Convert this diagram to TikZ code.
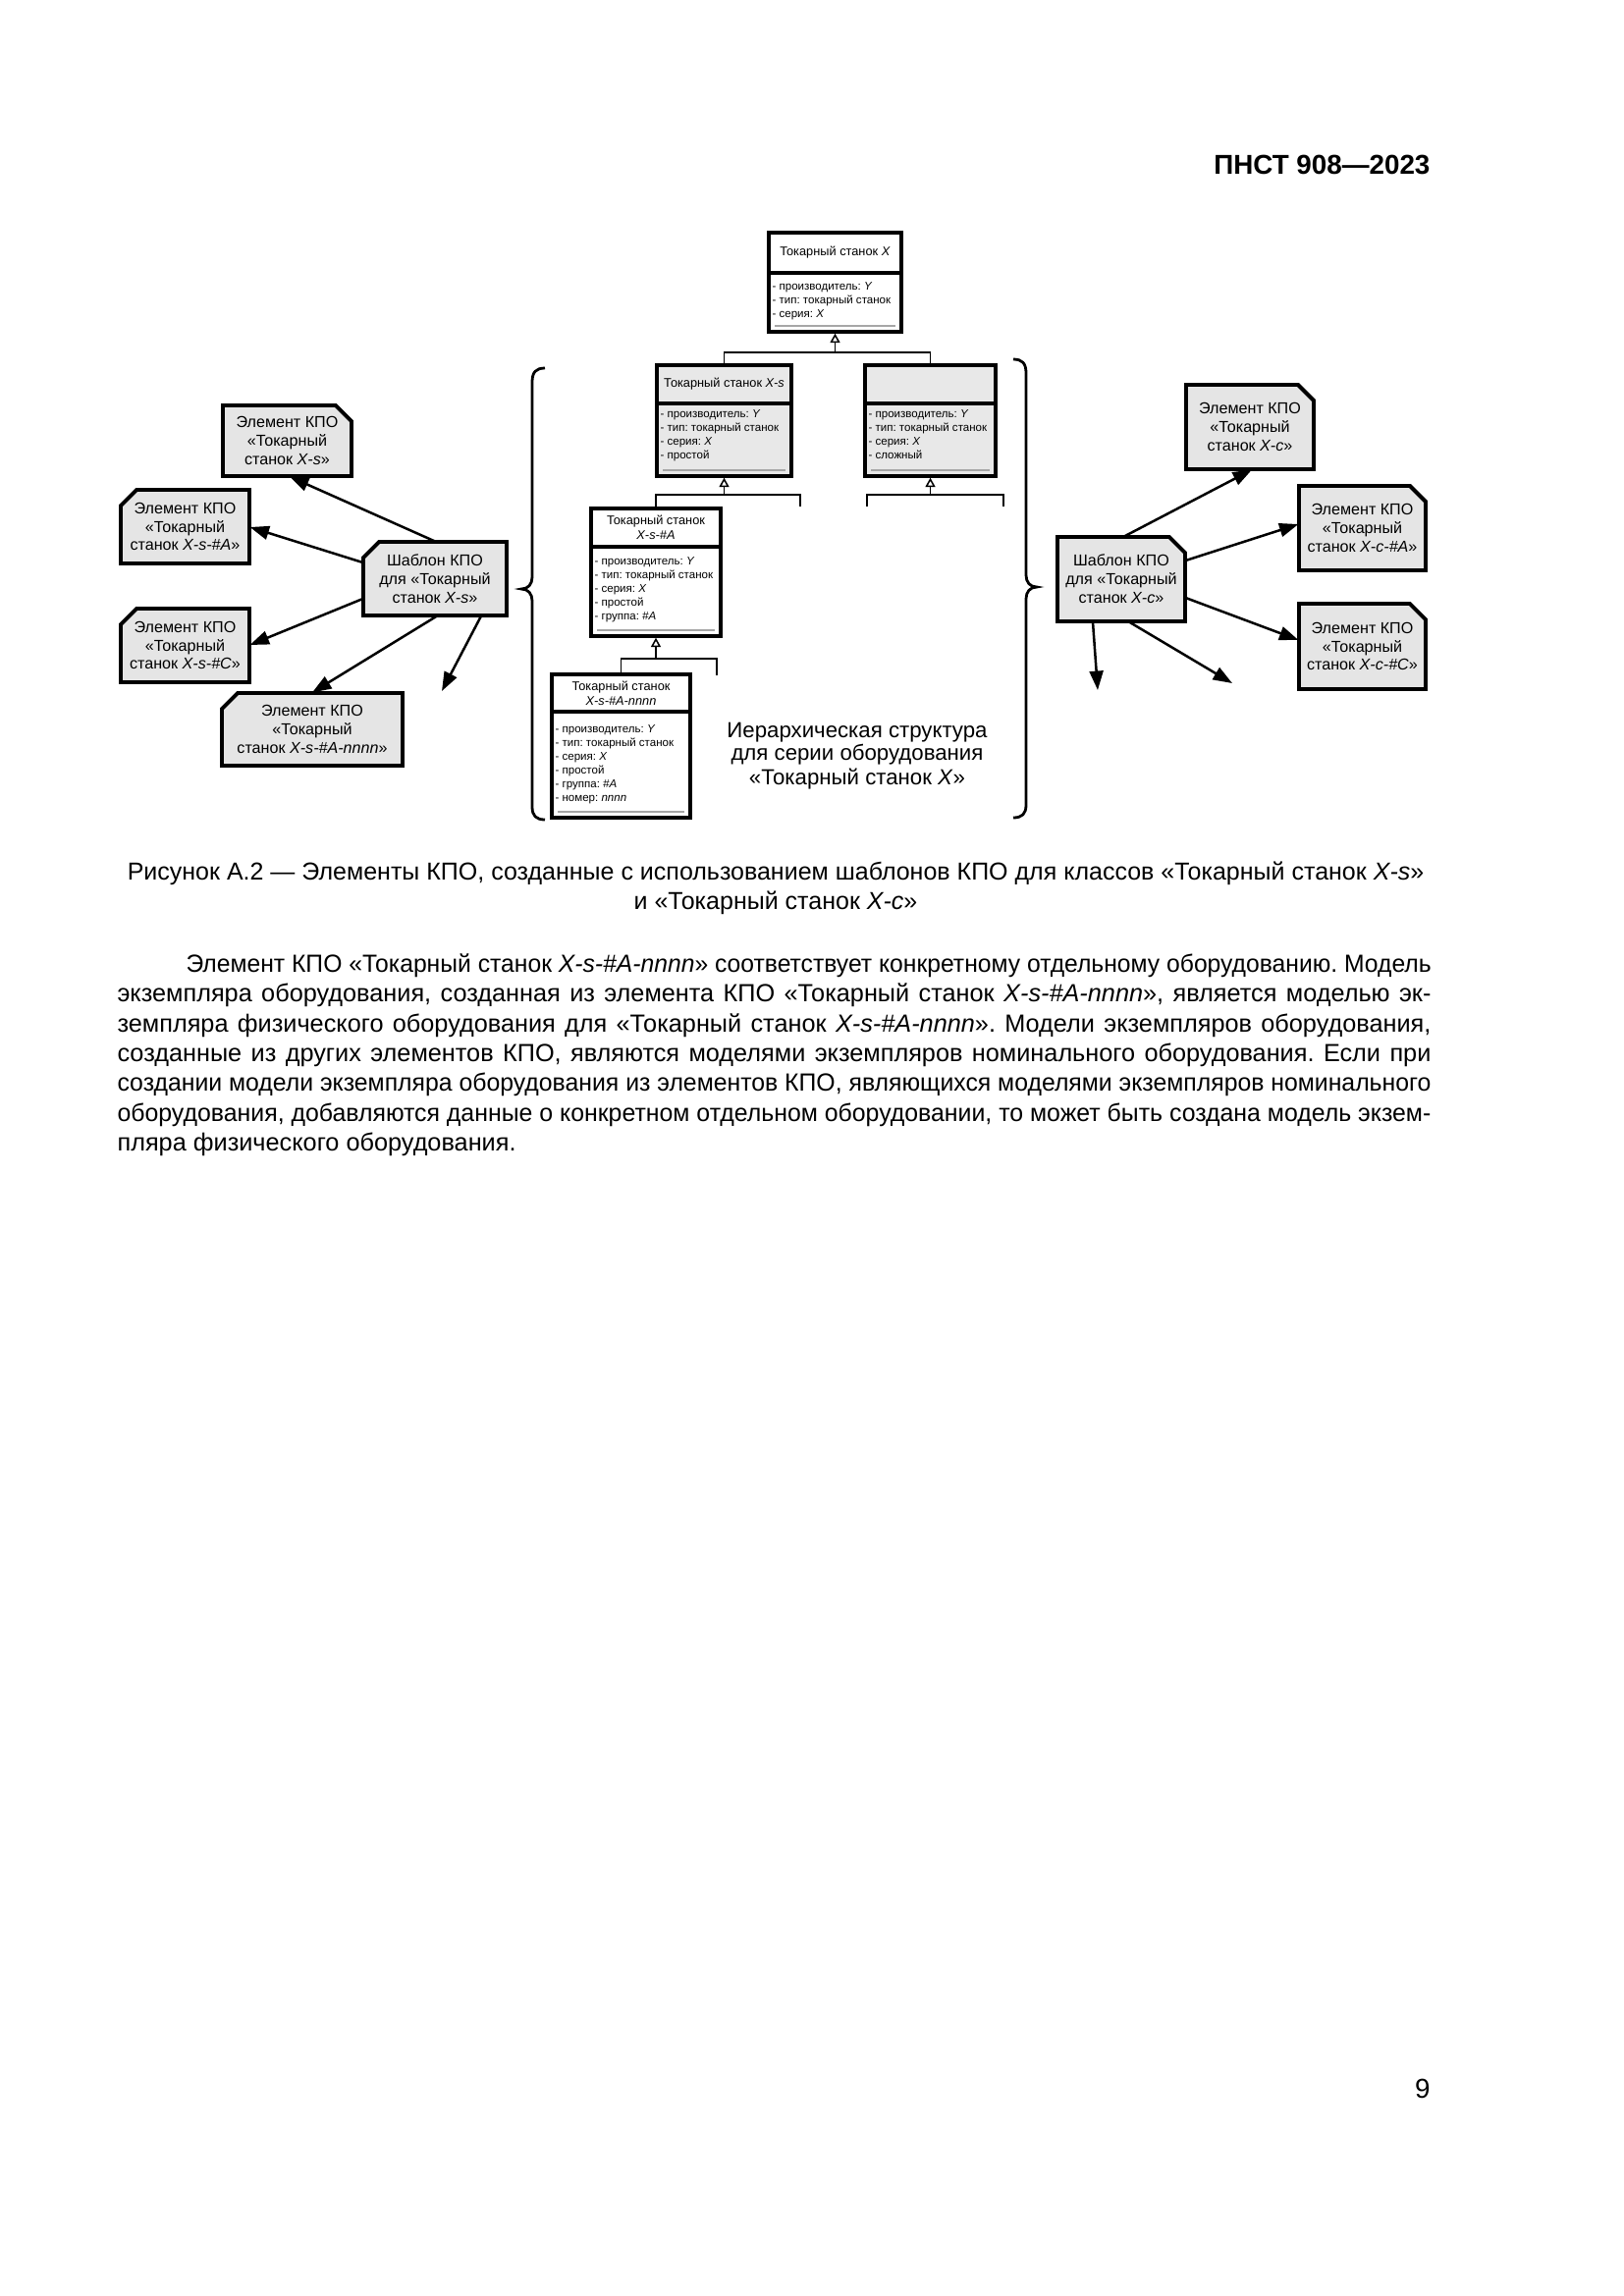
\documentclass[tikz,border=0pt]{standalone}
\usepackage{fontspec}
\usepackage{graphicx}
\setmainfont{Liberation Sans}
\frenchspacing
\usetikzlibrary{arrows.meta,fit,calc}
\newsavebox\jlbox
\newcommand\jline[2]{\sbox\jlbox{#2}\ifdim\wd\jlbox>#1\relax\resizebox{#1}{\height}{\usebox\jlbox}\else\hbox to #1{#2}\fi}
\tikzset{
  umlbox/.style={draw=black, line width=1.2pt, inner sep=0pt},
  umlline/.style={line width=1.2pt},
  grayline/.style={draw=black!35, line width=0.55pt},
  umltitle/.style={font=\fontsize{4.6}{5.4}\selectfont, align=center, inner sep=0pt},
  attr/.style={font=\fontsize{4.15}{5.0}\selectfont, anchor=base west, inner sep=0pt},
  inh/.style={line width=0.55pt, -{Triangle[open, length=3.4pt, width=3.6pt]}},
  conn/.style={line width=0.55pt},
  kpoline/.style={draw=black, line width=1.4pt, fill=black!10, line join=miter},
  kpotext/.style={font=\fontsize{5.8}{6.8}\selectfont, align=center, inner sep=0pt},
  arr/.style={line width=0.9pt, -{Triangle[length=7pt, width=5pt]}},
  bracel/.style={line width=1pt},
  htext/.style={font=\fontsize{8}{9}\selectfont, anchor=base, inner sep=0pt},
  bodytext/.style={font=\fontsize{9.1}{10.9}\selectfont, inner sep=0pt},
  captext/.style={font=\fontsize{9.0}{10.9}\selectfont, inner sep=0pt, anchor=base},
}
\newcommand\kpoNE[6]{%
  \node[fit={(#2,#3) (#4,#5)}, inner sep=0pt] (#1) {};
  \draw[kpoline] (#2,#3) -- (#4-16,#3) -- (#4,#3+16) -- (#4,#5) -- (#2,#5) -- cycle;
  \node[kpotext] (#1-t) at (#1.center) {#6};}
\newcommand\kpoNW[6]{%
  \node[fit={(#2,#3) (#4,#5)}, inner sep=0pt] (#1) {};
  \draw[kpoline] (#2,#3+16) -- (#2+16,#3) -- (#4,#3) -- (#4,#5) -- (#2,#5) -- cycle;
  \node[kpotext] (#1-t) at (#1.center) {#6};}
\newcommand\umlbox[7]{%
  \node[umlbox, fill=#7, fit={(#2,#3) (#4,#5)}] (#1) {};
  \draw[umlline] (#2,#6) -- (#4,#6);
  \draw[grayline] (#2+6,#5-6) -- (#4-6,#5-6);}
\newcommand\attrs[4]{%
  \foreach \ln [count=\i] in {#4} {\node[attr] (#1-a\i) at (#2,#3+14*\i-14) {\ln};}}
\begin{document}
\begin{tikzpicture}[x=0.3599pt, y=-0.3599pt]
\path[use as bounding box, fill=white] (0,0) rectangle (1654,2339);

% header
\node[anchor=base east, inner sep=0pt, font=\bfseries\fontsize{10}{12}\selectfont] (hdr) at (1457,177) {ПНСТ 908—2023};

% ---------- UML hierarchy ----------
\umlbox{top}{783}{237}{918}{338}{278}{white}
\node[umltitle] (top-t) at (850.5,257.5) {Токарный станок \textit{X}};
\attrs{top}{786}{295}{- производитель: \textit{Y}, - тип: токарный станок, - серия: \textit{X}}

\umlbox{xs}{669}{372}{806}{485}{411}{black!9}
\node[umltitle] (xs-t) at (737.5,391.5) {Токарный станок \textit{X-s}};
\attrs{xs}{672}{425}{- производитель: \textit{Y}, - тип: токарный станок, - серия: \textit{X}, - простой}

\umlbox{rt}{881}{372}{1014}{485}{411}{black!9}
\attrs{rt}{884}{425}{- производитель: \textit{Y}, - тип: токарный станок, - серия: \textit{X}, - сложный}

\umlbox{sa}{602}{518}{734}{648}{557}{white}
\node[umltitle] (sa-t) at (668,537.5) {Токарный станок\\\textit{X-s-\#A}};
\attrs{sa}{605}{575}{- производитель: \textit{Y}, - тип: токарный станок, - серия: \textit{X}, - простой, - группа: \textit{\#A}}

\umlbox{sn}{562}{687}{703}{833}{725}{white}
\node[umltitle] (sn-t) at (632.5,706) {Токарный станок\\\textit{X-s-\#A-nnnn}};
\attrs{sn}{565}{746}{- производитель: \textit{Y}, - тип: токарный станок, - серия: \textit{X}, - простой, - группа: \textit{\#A}, - номер: \textit{nnnn}}

% hierarchy connectors
\draw[inh] (top.south |- 0,359) -- (top.south);
\draw[conn] (xs.north) -- (xs.north |- 0,359) -- (rt.north |- 0,359) -- (rt.north);

\draw[inh] (xs.south |- 0,504) -- (xs.south);
\coordinate (stubA) at (815,516);
\draw[conn] (sa.north) -- (sa.north |- 0,504) -- (stubA |- 0,504) -- (stubA);

\draw[inh] (rt.south |- 0,504) -- (rt.south);
\coordinate (stubB) at (883,516);
\coordinate (stubC) at (1022,516);
\draw[conn] (stubB) -- (stubB |- 0,504) -- (stubC |- 0,504) -- (stubC);

\draw[inh] (sa.south |- 0,671) -- (sa.south);
\coordinate (stubD) at (730,688);
\draw[conn] (sn.north) -- (sn.north |- 0,671) -- (stubD |- 0,671) -- (stubD);

% braces
\draw[bracel] (555,375) .. controls (546,375) and (542,379) .. (542,389) -- (542,588)
  .. controls (542,595) and (538,600) .. (531,600)
  .. controls (538,600) and (542,605) .. (542,612) -- (542,822)
  .. controls (542,831) and (546,835) .. (555,835);
\draw[bracel] (1032,366) .. controls (1041,366) and (1045,370) .. (1045,380) -- (1045,586)
  .. controls (1045,593) and (1049,598) .. (1056,598)
  .. controls (1049,598) and (1045,603) .. (1045,610) -- (1045,820)
  .. controls (1045,829) and (1041,833) .. (1032,833);

% hierarchy label
\node[htext] (h1) at (873,751) {Иерархическая структура};
\node[htext] (h2) at (873,774) {для серии оборудования};
\node[htext] (h3) at (873,799) {«Токарный станок \textit{X}»};

% ---------- left side ----------
\kpoNW{tplS}{370}{552}{516}{627}{Шаблон КПО\\для «Токарный\\станок \textit{X-s}»}
\kpoNE{elS}{227}{413}{358}{485}{Элемент КПО\\«Токарный\\станок \textit{X-s}»}
\kpoNW{elSA}{123}{499}{254}{574}{Элемент КПО\\«Токарный\\станок \textit{X-s-\#A}»}
\kpoNW{elSC}{123}{620}{254}{695}{Элемент КПО\\«Токарный\\станок \textit{X-s-\#C}»}
\kpoNW{elSN}{226}{706}{410}{780}{Элемент КПО\\«Токарный\\станок \textit{X-s-\#A-nnnn}»}

\draw[arr] (tplS.north -| 443,0) -- (elS.south -| 295,0);
\draw[arr] (tplS.west |- 0,573) -- (elSA.east |- 0,537);
\draw[arr] (tplS.west |- 0,610) -- (elSC.east |- 0,657);
\draw[arr] (tplS.south -| 445,0) -- (elSN.north -| 318,0);
\coordinate (freeS) at (450,704);
\draw[arr] (tplS.south -| 490,0) -- (freeS);

% ---------- right side ----------
\kpoNE{tplC}{1077}{547}{1207}{633}{Шаблон КПО\\для «Токарный\\станок \textit{X-c}»}
\kpoNE{elC}{1208}{392}{1338}{478}{Элемент КПО\\«Токарный\\станок \textit{X-c}»}
\kpoNE{elCA}{1323}{495}{1452}{581}{Элемент КПО\\«Токарный\\станок \textit{X-c-\#A}»}
\kpoNE{elCC}{1323}{615}{1452}{702}{Элемент КПО\\«Токарный\\станок \textit{X-c-\#C}»}

\draw[arr] (tplC.north -| 1145,0) -- (elC.south -| 1275,0);
\draw[arr] (tplC.east |- 0,571) -- (elCA.west |- 0,534);
\draw[arr] (tplC.east |- 0,609) -- (elCC.west |- 0,652);
\coordinate (freeC1) at (1118,703);
\coordinate (freeC2) at (1255,696);
\draw[arr] (tplC.south -| 1113,0) -- (freeC1);
\draw[arr] (tplC.south -| 1150,0) -- (freeC2);

% ---------- caption ----------
\node[captext] (cap1) at (790,896) {Рисунок А.2 — Элементы КПО, созданные с использованием шаблонов КПО для классов «Токарный станок \textit{X-s}»};
\node[captext] (cap2) at (790,926) {и «Токарный станок \textit{X-c}»};

% ---------- body ----------
\node[bodytext, anchor=base west] (b1) at (189,990) {\jline{456.4pt}{Элемент КПО «Токарный станок \textit{X-s-\#A-nnnn}» соответствует конкретному отдельному оборудованию. Модель}};
\node[bodytext, anchor=base west] (b2) at (119,1020) {\jline{481.5pt}{экземпляра оборудования, созданная из элемента КПО «Токарный станок \textit{X-s-\#A-nnnn}», является моделью эк-}};
\node[bodytext, anchor=base west] (b3) at (119,1051) {\jline{481.5pt}{земпляра физического оборудования для «Токарный станок \textit{X-s-\#A-nnnn}». Модели экземпляров оборудования,}};
\node[bodytext, anchor=base west] (b4) at (119,1081) {\jline{481.5pt}{созданные из других элементов КПО, являются моделями экземпляров номинального оборудования. Если при}};
\node[bodytext, anchor=base west] (b5) at (119,1111) {\jline{481.5pt}{создании модели экземпляра оборудования из элементов КПО, являющихся моделями экземпляров номинального}};
\node[bodytext, anchor=base west] (b6) at (119,1142) {\jline{481.5pt}{оборудования, добавляются данные о конкретном отдельном оборудовании, то может быть создана модель экзем-}};
\node[bodytext, anchor=base west] (b7) at (119,1172) {пляра физического оборудования.};

% page number
\node[anchor=base east, inner sep=0pt, font=\fontsize{10}{12}\selectfont] (pg) at (1457,2137) {9};
\end{tikzpicture}
\end{document}
